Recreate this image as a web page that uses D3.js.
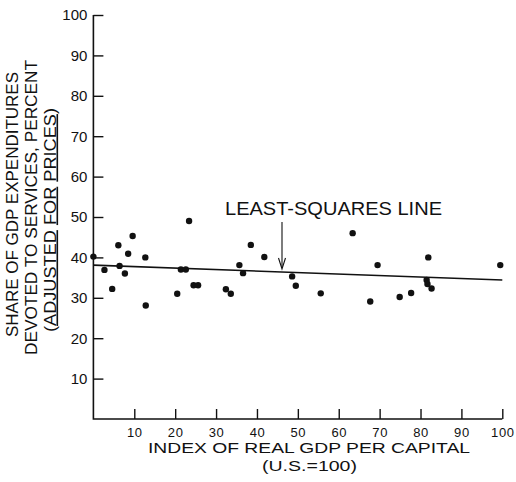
<!DOCTYPE html>
<html><head><meta charset="utf-8">
<script src="https://cdn.jsdelivr.net/npm/d3@7"></script>
<style>body{margin:0;background:#fff}svg{display:block}text{font-family:"Liberation Sans",Arial,sans-serif;fill:#111}</style>
</head><body>
<script>
const gdpIndex = [0,2.7,4.6,6.1,6.4,7.7,8.5,9.6,12.7,12.8,20.5,21.4,22.6,23.4,24.5,25.6,32.4,33.6,35.7,36.6,38.5,41.8,48.6,49.5,55.6,63.4,67.7,69.5,74.9,77.7,81.9,81.5,81.7,82.7,99.5];
const serviceShare = [40.2,36.9,32.2,43.0,37.9,36.0,40.9,45.3,40.0,28.1,31.0,37.0,37.0,49.0,33.1,33.1,32.1,31.0,38.1,36.1,43.1,40.1,35.3,33.0,31.1,46.0,29.1,38.1,30.2,31.2,40.0,34.4,33.4,32.3,38.1];
const lsqLine = [[0,38.1],[100,34.4]];
const xTicks = [10,20,30,40,50,60,70,80,90,100];
const yTicks = [10,20,30,40,50,60,70,80,90,100];

const W=516,H=482;
const svg=d3.select("body").append("svg").attr("width",W).attr("height",H);
const x=d3.scaleLinear().domain([0,100]).range([93.4,502.3]);
const y=d3.scaleLinear().domain([0,100]).range([419,15]);

svg.append("path").attr("d",`M${x(0)},${y(100)}V${y(0)}H${x(100)}`).attr("fill","none").attr("stroke","#111").attr("stroke-width",1.6);
const xa=svg.append("g").attr("transform",`translate(0,${y(0)})`).call(d3.axisBottom(x).tickValues(xTicks).tickSizeInner(-10).tickSizeOuter(0).tickPadding(10));
const ya=svg.append("g").attr("transform",`translate(${x(0)},0)`).call(d3.axisLeft(y).tickValues(yTicks).tickSizeInner(-10).tickSizeOuter(0).tickPadding(6));
[xa,ya].forEach(a=>{a.select(".domain").remove();a.selectAll("line").attr("stroke","#111").attr("stroke-width",1.4);});
xa.selectAll("text").attr("font-size",13).attr("letter-spacing",0.6).attr("fill","#111").style("font-family","Liberation Sans").attr("y",17.5).attr("dy",0);
ya.selectAll("text").attr("font-size",15).attr("fill","#111").style("font-family","Liberation Sans").attr("x",-6);

svg.append("line").attr("x1",x(lsqLine[0][0])).attr("y1",y(lsqLine[0][1])).attr("x2",x(lsqLine[1][0])).attr("y2",y(lsqLine[1][1])).attr("stroke","#111").attr("stroke-width",1.6);

svg.append("g").selectAll("circle").data(gdpIndex).join("circle")
  .attr("cx",(d)=>x(d)).attr("cy",(d,i)=>y(serviceShare[i])).attr("r",3.2).attr("fill","#111");

const SG="spacingAndGlyphs";
svg.append("text").attr("x",225).attr("y",215).attr("font-size",17.5).attr("textLength",217).attr("lengthAdjust",SG).text("LEAST-SQUARES LINE");
svg.append("line").attr("x1",282).attr("x2",282).attr("y1",222).attr("y2",268).attr("stroke","#111").attr("stroke-width",1.1);
svg.append("path").attr("d","M278.5,258L282,269L285.5,258").attr("fill","none").attr("stroke","#111").attr("stroke-width",1.1);

svg.append("text").attr("x",148).attr("y",453).attr("font-size",15).attr("textLength",322).attr("lengthAdjust",SG).text("INDEX OF REAL GDP PER CAPITAL");
svg.append("text").attr("x",262).attr("y",470.5).attr("font-size",15.5).attr("textLength",95).attr("lengthAdjust",SG).text("(U.S.=100)");

const yt=[{t:"SHARE OF GDP EXPENDITURES",x:18,a:337,len:265},{t:"DEVOTED TO SERVICES, PERCENT",x:37,a:355,len:295}];
yt.forEach(o=>svg.append("text").attr("transform",`translate(${o.x},${o.a}) rotate(-90)`).attr("font-size",16).attr("textLength",o.len).attr("lengthAdjust",SG).text(o.t));
const t3=svg.append("text").attr("transform",`translate(55.5,332) rotate(-90)`).attr("font-size",16).attr("textLength",224).attr("lengthAdjust",SG);
t3.append("tspan").text("(");
t3.append("tspan").attr("text-decoration","underline").text("ADJUSTED");
t3.append("tspan").text(" ");
t3.append("tspan").attr("text-decoration","underline").text("FOR");
t3.append("tspan").text(" ");
t3.append("tspan").attr("text-decoration","underline").text("PRICES");
t3.append("tspan").text(")");
</script>
</body></html>
